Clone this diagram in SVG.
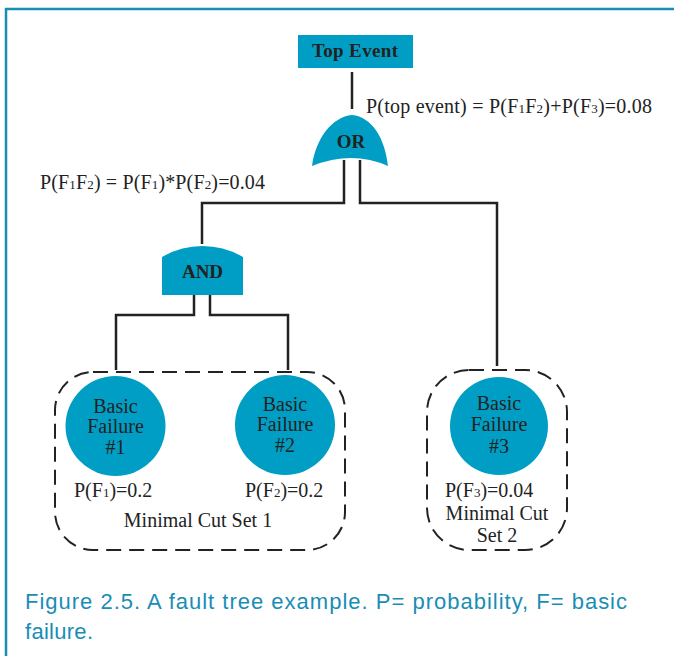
<svg xmlns="http://www.w3.org/2000/svg" width="674" height="656" viewBox="0 0 674 656">
<style>
.gate{fill:#009ec4}
.wire{fill:none;stroke:#222;stroke-width:2.5}
.cut{fill:none;stroke:#222;stroke-width:2;stroke-dasharray:15 8}
.lbl{font-family:"Liberation Serif",serif;font-size:20px;fill:#222}
.b{font-family:"Liberation Serif",serif;font-weight:bold;font-size:19px;fill:#222;text-anchor:middle}
.c{text-anchor:middle}
.cap{font-family:"Liberation Sans",sans-serif;font-size:22px;fill:#1a8db5}
</style>
<rect width="674" height="656" fill="#fff"/>
<path d="M6,656 V9 H674" fill="none" stroke="#1a8db5" stroke-width="2.5"/>
<g id="connectors">
<path class="wire" d="M352,72 V109"/>
<path class="wire" d="M344,160 V203 H202 V244"/>
<path class="wire" d="M360,160 V203 H497 V366"/>
<path class="wire" d="M194,295 V315 H116 V370"/>
<path class="wire" d="M210,295 V315 H288 V370"/>
</g>
<g id="top-event">
<rect class="gate" x="298" y="35" width="115" height="33"/>
<text class="b" x="355" y="57" textLength="86">Top Event</text>
</g>
<g id="or-gate">
<path class="gate" d="M312,166 C316,138 332,117 352,115 C372,117 385,138 388,166 Q352,150 312,166 Z"/>
<text class="b" x="351" y="148">OR</text>
</g>
<text class="lbl" x="366" y="113" textLength="286">P(top event) = P(F<tspan font-size="13">1</tspan>F<tspan font-size="13">2</tspan>)+P(F<tspan font-size="13">3</tspan>)=0.08</text>
<text class="lbl" x="40" y="189" textLength="225">P(F<tspan font-size="13">1</tspan>F<tspan font-size="13">2</tspan>) = P(F<tspan font-size="13">1</tspan>)*P(F<tspan font-size="13">2</tspan>)=0.04</text>
<g id="and-gate">
<path class="gate" d="M162,295 V257 A80,80 0 0 1 243,257 V295 Z"/>
<text class="b" x="202.5" y="278">AND</text>
</g>
<g id="cut-set-1">
<rect class="cut" x="55" y="372" width="290" height="178" rx="38" ry="38"/>
<text class="lbl c" x="198" y="527">Minimal Cut Set 1</text>
</g>
<g id="basic-failure-1">
<circle class="gate" cx="115.5" cy="426" r="50"/>
<text class="lbl c" x="115.5" y="413">Basic</text>
<text class="lbl c" x="115.5" y="433">Failure</text>
<text class="lbl c" x="115.5" y="454">#1</text>
<text class="lbl" x="74" y="497">P(F<tspan font-size="13">1</tspan>)=0.2</text>
</g>
<g id="basic-failure-2">
<circle class="gate" cx="285" cy="425" r="50"/>
<text class="lbl c" x="285" y="411">Basic</text>
<text class="lbl c" x="285" y="431">Failure</text>
<text class="lbl c" x="285" y="452">#2</text>
<text class="lbl" x="245" y="497">P(F<tspan font-size="13">2</tspan>)=0.2</text>
</g>
<g id="cut-set-2">
<rect class="cut" x="427" y="370" width="140" height="180" rx="42" ry="42"/>
<text class="lbl c" x="497" y="520">Minimal Cut</text>
<text class="lbl c" x="497" y="542">Set 2</text>
</g>
<g id="basic-failure-3">
<circle class="gate" cx="499" cy="426" r="49"/>
<text class="lbl c" x="499" y="410">Basic</text>
<text class="lbl c" x="499" y="431">Failure</text>
<text class="lbl c" x="499" y="453">#3</text>
<text class="lbl" x="445" y="497">P(F<tspan font-size="13">3</tspan>)=0.04</text>
</g>
<text class="cap" x="25" y="609" textLength="602">Figure 2.5. A fault tree example. P= probability, F= basic</text>
<text class="cap" x="25" y="639" textLength="68">failure.</text>
</svg>
